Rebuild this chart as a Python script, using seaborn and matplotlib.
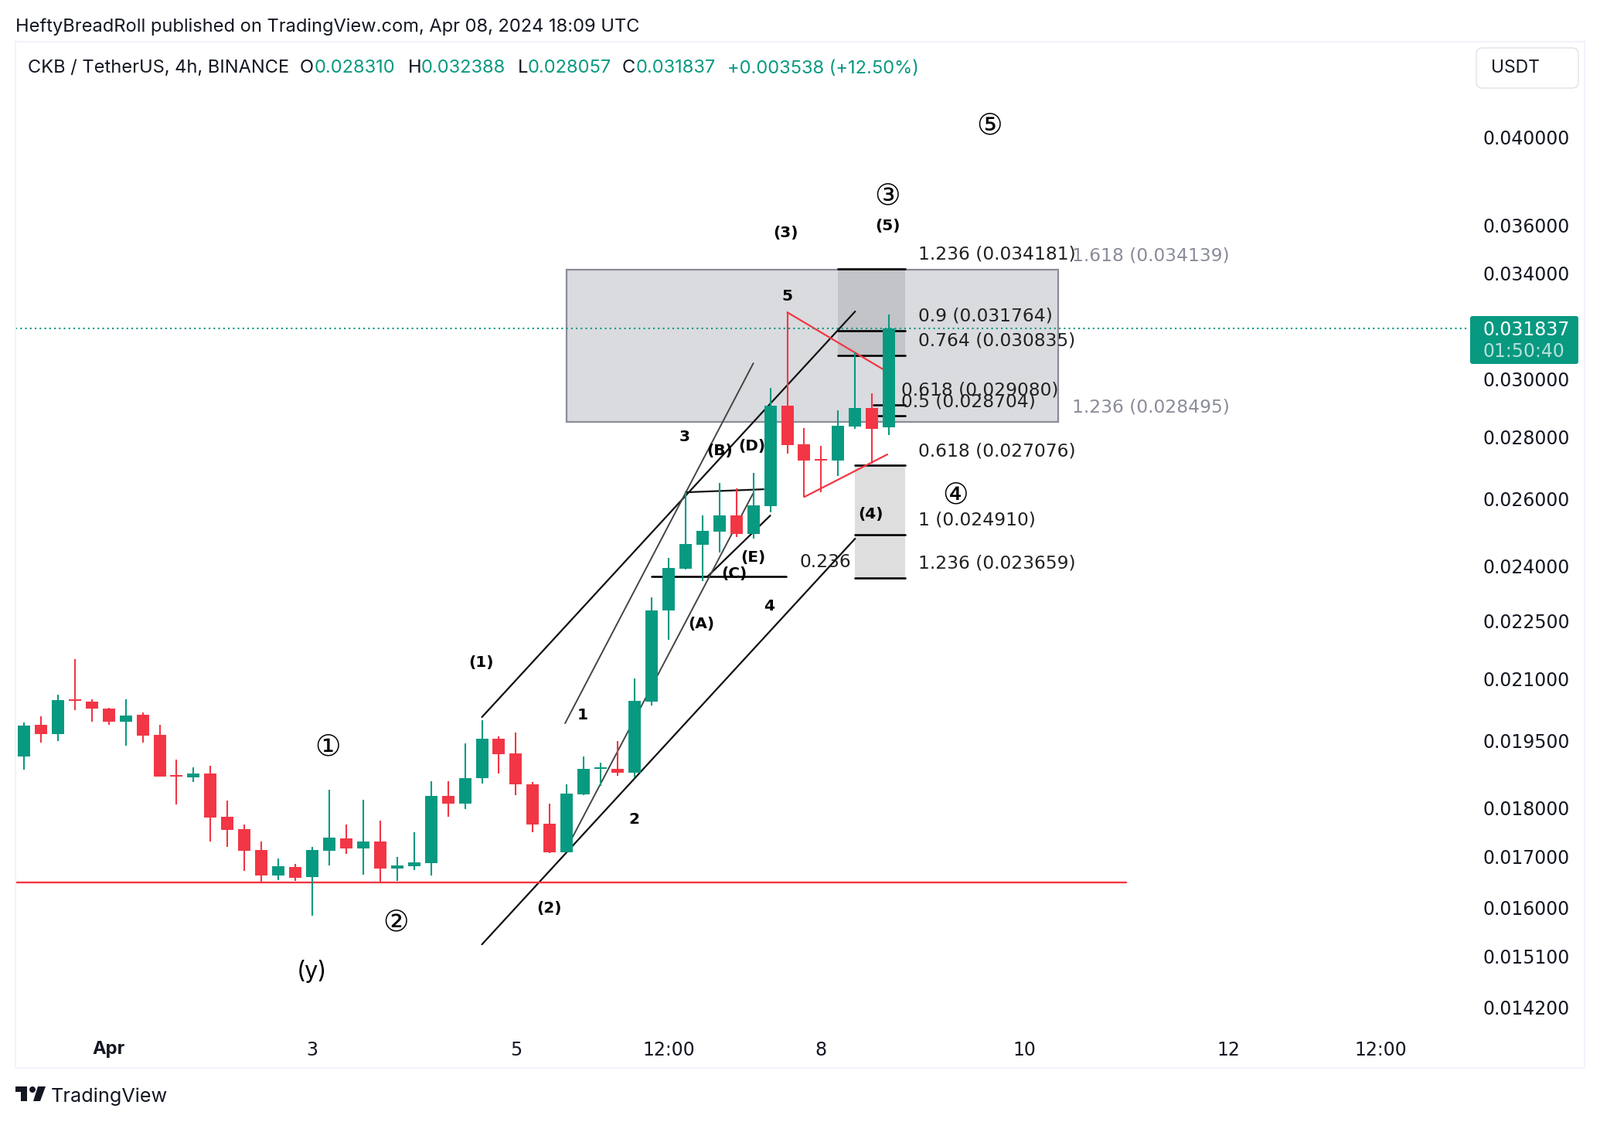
import matplotlib
matplotlib.use("Agg")
import matplotlib.pyplot as plt
from matplotlib.patches import Rectangle, Polygon, Circle, FancyBboxPatch
import pandas as pd
import seaborn as sns

# ---------- candle data (index on 4h bars; index 5 = 1 Apr) ----------
opens = [.019138,.019873,.019657,.020486,.020430,.020263,.019946,.020114,.019639,.018720,
         .018669,.018755,.017815,.017553,.017123,.016612,.016780,.016582,.017107,.017365,
         .017155,.017301,.016750,.016796,.016858,.018262,.018094,.018652,.019548,.019210,
         .018515,.017667,.017077,.018296,.018870,.018859,.018772,.020430,.022771,.023927,
         .024621,.025009,.025493,.024940,.025779,.029051,.027745,.027265,.027214,.028339,
         .028970,.028310]
highs = [.019940,.020076,.020598,.021490,.020486,.020281,.020486,.020170,.019873,.019067,
         .018894,.018928,.018160,.017651,.017301,.016951,.016842,.017187,.018399,.017651,
         .018177,.017733,.016982,.017491,.018584,.018584,.019440,.019983,.019603,.019693,
         .018567,.018094,.018515,.019138,.018998,.019488,.021001,.023129,.024238,.026216,
         .025493,.026500,.026328,.026820,.029668,.032465,.028287,.027695,.028890,.030953,
         .029476,.032388]
lows = [.018842,.019458,.019494,.020226,.019946,.019873,.019386,.019458,.018686,.018076,
        .018567,.017301,.017187,.016704,.016477,.016522,.016507,.015837,.016811,.017045,
        .016627,.016477,.016507,.016719,.016612,.017815,.017980,.018532,.018755,.018279,
        .017491,.017061,.017077,.018279,.018481,.018703,.018669,.020337,.021988,.023905,
        .023588,.024396,.024847,.024809,.025588,.027442,.026057,.026208,.026721,.028261,
        .027113,.028057]
closes = [.019855,.019657,.020467,.020449,.020263,.019946,.020094,.019621,.018686,.018697,
          .018755,.017798,.017537,.017107,.016612,.016796,.016566,.017123,.017380,.017155,
          .017301,.016750,.016811,.016873,.018262,.018094,.018652,.019548,.019192,.018515,
          .017651,.017077,.018310,.018859,.018894,.018772,.020449,.022771,.023950,.024642,
          .025032,.025493,.024940,.025801,.029051,.027720,.027214,.027223,.028365,.028970,
          .028261,.031837]

price_ticks = [.040, .036, .034, .030, .028, .026, .024, .0225, .021, .0195, .018, .017, .016, .0151, .0142]
price_labels = ["0.040000","0.036000","0.034000","0.030000","0.028000","0.026000","0.024000","0.022500",
                "0.021000","0.019500","0.018000","0.017000","0.016000","0.015100","0.014200"]
time_ticks = [5, 17, 29, 38, 47, 59, 71, 80]
time_labels = ["Apr", "3", "5", "12:00", "8", "10", "12", "12:00"]

last_price = 0.031837
support_level = 0.016477

# trendlines: (bar, price, bar, price)
black_lines = [(27, .020060, 49, .032497), (27, .015308, 49, .024804),
               (40.3, .023712, 44, .025495), (39, .026208, 43.6, .026303)]
gray_lines = [(31.9, .019912, 43, .030556), (32.3, .017364, 43, .026188)]
red_lines = [(45, .032465, 50.66, .030332), (46, .026063, 50.9, .027416)]

# fib levels: (bar start, bar end, price)
fib_levels = [(48, 51.96, .034181), (48, 51.96, .031764), (48, 51.96, .030835),
              (50.07, 51.96, .029080), (50.07, 51.96, .028704),
              (49, 51.96, .027076), (49, 51.96, .024910), (49, 51.96, .023659),
              (37, 44.95, .023712)]

# ---------- layout ----------
W, H = 2070, 1452
FONT = "Inter"
NUM = "DejaVu Sans"
GREEN, RED = "#089981", "#F23645"
INK = "#131722"

sns.set_theme(style="white", rc={"font.family": FONT, "axes.facecolor": "white"})
fig = plt.figure(figsize=(W / 100, H / 100), dpi=100, facecolor="white")
ax = fig.add_axes([20 / W, 1 - 1382 / H, 2030 / W, 1328 / H])
ax.set_yscale("log")


def put(x, y, s, size=16.8, color="black", weight="normal", ha="left", family=FONT, va="center"):
    fig.text(x / W, 1 - (y + 2.5) / H, s, fontsize=size, color=color, fontweight=weight,
             ha=ha, va=va, family=family, zorder=10)


# ---------- backgrounds ----------
ax.add_patch(Rectangle((32, .028495), 28.95, .034139 - .028495, fc="#DADBDF", ec="#8A8C99", lw=1.6, zorder=1))
ax.add_patch(Rectangle((48, .030835), 3.96, .034181 - .030835, fc="#C3C4C8", lw=0, zorder=1.1))
ax.add_patch(Rectangle((49, .023659), 2.96, .027076 - .023659, fc="#DEDEDE", lw=0, zorder=1.1))


def segments(items, color, lw):
    rows = []
    for k, (x0, y0, x1, y1) in enumerate(items):
        rows += [{"seg": k, "x": x0, "y": y0}, {"seg": k, "x": x1, "y": y1}]
    sns.lineplot(data=pd.DataFrame(rows), x="x", y="y", units="seg", estimator=None, sort=False,
                 color=color, lw=lw, ax=ax, legend=False, zorder=2)


segments([(a, p, b, p) for a, b, p in fib_levels], "black", 1.9)
segments(black_lines, "#111111", 1.6)
segments(gray_lines, "#444444", 1.4)
segments(red_lines, RED, 1.6)
segments([(-0.5, support_level, 65, support_level)], RED, 1.7)
ax.plot([-0.5, 85.2], [last_price, last_price], color=GREEN, lw=1.5, ls=(0, (1, 2)), zorder=2)

# ---------- candles ----------
wicks, bodies = [], []
for i, (o, h, l, c) in enumerate(zip(opens, highs, lows, closes)):
    d = "up" if c >= o else "down"
    wicks += [{"bar": i, "price": h, "dir": d}, {"bar": i, "price": l, "dir": d}]
    bodies += [{"bar": i, "price": o, "dir": d}, {"bar": i, "price": c, "dir": d}]
pal = {"up": GREEN, "down": RED}
sns.lineplot(data=pd.DataFrame(wicks), x="bar", y="price", hue="dir", units="bar", estimator=None,
             sort=False, palette=pal, lw=1.5, solid_capstyle="butt", ax=ax, legend=False, zorder=3)
sns.lineplot(data=pd.DataFrame(bodies), x="bar", y="price", hue="dir", units="bar", estimator=None,
             sort=False, palette=pal, lw=11.5, solid_capstyle="butt", ax=ax, legend=False, zorder=3)

# ---------- axes ----------
ax.set_xlim(-0.5, 92)
ax.set_ylim(.013217, .044788)
ax.set_xlabel("")
ax.set_ylabel("")
ax.yaxis.tick_right()
ax.minorticks_off()
ax.set_yticks(price_ticks, price_labels, family=NUM)
ax.set_xticks(time_ticks, time_labels, family=NUM)
ax.minorticks_off()
ax.tick_params(axis="y", length=0, pad=-94.5, labelsize=17, labelcolor=INK)
ax.tick_params(axis="x", length=0, pad=-25, labelsize=17, labelcolor=INK)
apr = ax.get_xticklabels()[0]
apr.set_fontweight("bold")
apr.set_family(FONT)
for s in ax.spines.values():
    s.set_color("#F0F3FA")
    s.set_linewidth(1.5)

# ---------- header ----------
put(20, 32, "HeftyBreadRoll published on TradingView.com, Apr 08, 2024 18:09 UTC", 17, INK)
put(36, 86, "CKB / TetherUS, 4h, BINANCE", 17, INK)
for x, s in [(388, "O"), (528, "H"), (670, "L"), (805, "C")]:
    put(x, 86, s, 17, INK)
for x, s in [(407, "0.028310"), (545, "0.032388"), (683, "0.028057"), (823, "0.031837"),
             (941, "+0.003538 (+12.50%)")]:
    put(x, 86, s, 17, GREEN)

# ---------- USDT button and last price tag ----------
trans = None
fig.add_artist(FancyBboxPatch((1916, 1452 - 108), 120, 40, boxstyle="round,pad=6,rounding_size=8",
                              fc="white", ec="#E0E3EB", lw=1, transform=trans))
put(1929, 86, "USDT", 16.5, INK)
fig.add_artist(FancyBboxPatch((1905, 1452 - 468), 134, 56, boxstyle="round,pad=3,rounding_size=3",
                              fc=GREEN, ec="none", transform=trans))
put(1918, 424, "0.031837", 17, "white", family=NUM)
put(1918, 452, "01:50:40", 17, "#B5E0D9", family=NUM)

# ---------- fib labels ----------
for x, y, s in [(1188, 327, "1.236 (0.034181)"), (1188, 407, "0.9 (0.031764)"), (1188, 439, "0.764 (0.030835)"),
                (1166, 503, "0.618 (0.029080)"), (1166, 517, "0.5 (0.028704)"),
                (1188, 581, "0.618 (0.027076)"), (1188, 671, "1 (0.024910)"), (1188, 727, "1.236 (0.023659)"),
                (1035, 725, "0.236")]:
    put(x, y, s, 16.8, "#222222", family=NUM)
put(1387, 329, "1.618 (0.034139)", 16.8, "#8A8C99", family=NUM)
put(1387, 525, "1.236 (0.028495)", 16.8, "#8A8C99", family=NUM)

# ---------- wave labels ----------
for x, y, s in [(623, 855, "(1)"), (710, 1173, "(2)"), (754, 923, "1"), (820, 1058, "2"), (886, 563, "3"),
                (995, 782, "4"), (1018, 381, "5"), (907, 805, "(A)"), (931, 581, "(B)"), (950, 740, "(C)"),
                (973, 575, "(D)"), (974, 719, "(E)"), (1016, 299, "(3)"), (1126, 663, "(4)"), (1148, 290, "(5)")]:
    put(x, y, s, 14.5, "black", "bold", ha="center", family=NUM)
for x, y, s in [(424, 965, "①"), (512, 1192, "②"), (1148, 252, "③"), (1236, 639, "④"), (1280, 161, "⑤")]:
    put(x, y, s, 27, "black", ha="center", family="Noto Sans CJK SC", weight="medium")
put(403, 1255, "(y)", 22, "black", ha="center")

# ---------- footer logo ----------
for pts in ([(20, 1406), (35, 1406), (35, 1425), (27, 1425), (27, 1413), (20, 1413)],
            [(49, 1406), (59, 1406), (52, 1425), (43, 1425)]):
    fig.add_artist(Polygon([(x, H - y) for x, y in pts], closed=True, fc=INK, ec="none", transform=trans))
fig.add_artist(Circle((42, H - 1410), 4, fc=INK, ec="none", transform=trans))
put(66, 1417, "TradingView", 18.2, INK)

fig.savefig("out.png", dpi=100)
